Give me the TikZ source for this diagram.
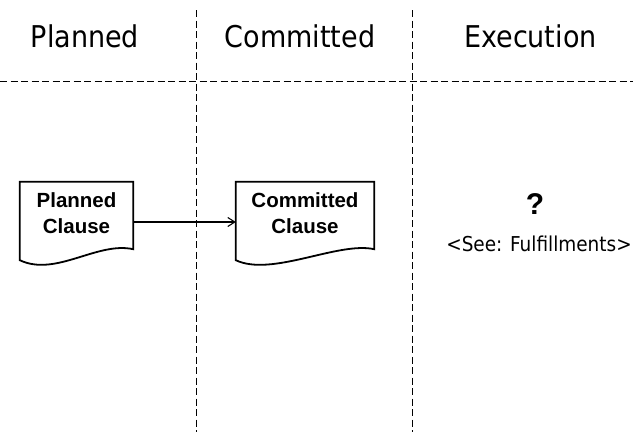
\documentclass[tikz,border=0pt]{standalone}
\usepackage{fontspec}
\setmainfont{Liberation Sans}
\newfontfamily\lanefont{DejaVu Sans Condensed}
\usetikzlibrary{arrows.meta,calc}
\begin{document}
\begin{tikzpicture}[x=1pt,y=-1pt,
  divider/.style={line width=0.9pt,dash pattern=on 7pt off 3.5pt},
  lanehead/.style={font=\lanefont\fontsize{30}{32}\selectfont,inner sep=0pt,anchor=base},
  docbox/.style={minimum width=113pt,minimum height=85pt,inner sep=0pt},
  docline/.style={line width=1.8pt,line join=miter},
  doctext/.style={font=\bfseries\fontsize{20.5}{26}\selectfont,align=center,inner sep=0pt},
  flow/.style={line width=1.1pt,-{Straight Barb[length=7pt,width=9pt]}},
  note/.style={font=\lanefont\fontsize{20.5}{22}\selectfont,inner sep=0pt,anchor=base}]
\useasboundingbox (0,0) rectangle (633,432);

% swim-lane dividers
\draw[divider] (196.5,10) -- (196.5,432);
\draw[divider] (412.5,10) -- (412.5,432);
\draw[divider] (0,81) -- (633,81);

% lane headings
\node[lanehead] (hplanned) at (85,47) {Planned};
\node[lanehead] (hcommitted) at (300,47) {Committed};
\node[lanehead] (hexec) at (530.5,47) {Execution};

% document shapes
\node[docbox] (pc) at (76.5,224.5) {};
\node[docbox,minimum width=138pt] (cc) at (305,224.5) {};
\foreach \d in {pc,cc}{
  \draw[docline] (\d.north west) -- (\d.north east)
    -- ([yshift=18pt]\d.south east)
    .. controls ([xshift=-36pt,yshift=26pt]\d.south east) and ([xshift=36pt,yshift=-10pt]\d.south west)
    .. ([yshift=7pt]\d.south west) -- cycle;
}
\node[doctext] (pctext) at ([yshift=11pt]pc.center) {Planned\\Clause};
\node[doctext] (cctext) at ([yshift=11pt]cc.center) {Committed\\Clause};

\draw[flow] (pc.east |- 0,222) -- (cc.west |- 0,222);

% execution lane
\node[font=\bfseries\fontsize{30}{32}\selectfont,inner sep=0pt,anchor=base] (q) at (535,214) {?};
\node[note] (see) at (539,251) {<See: Fulfillments>};
\end{tikzpicture}
\end{document}
